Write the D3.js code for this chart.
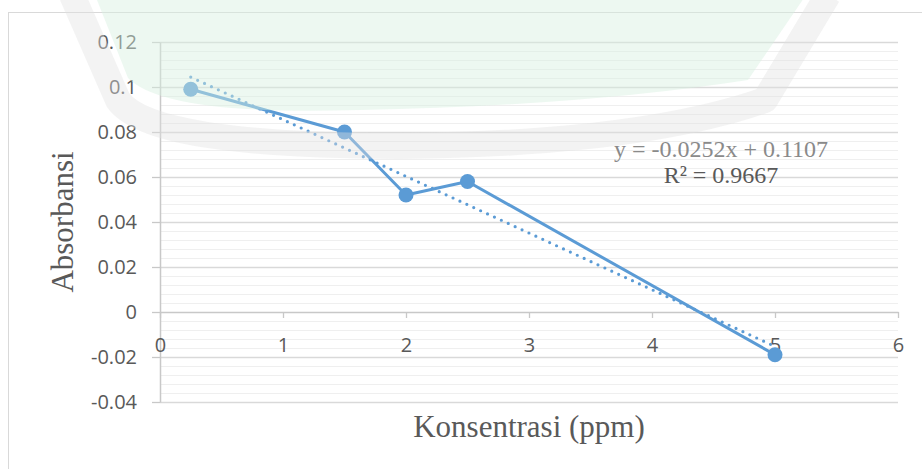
<!DOCTYPE html>
<html>
<head>
<meta charset="utf-8">
<script src="https://cdn.jsdelivr.net/npm/d3@7"></script>
<style>
  html, body { margin: 0; padding: 0; background: #ffffff; }
  svg { display: block; }
</style>
</head>
<body>
<svg id="chart" width="922" height="469"></svg>
<script>
// ---- data ----
const concentrations = [0.25, 1.5, 2, 2.5, 5];
const absorbances = [0.099, 0.08, 0.052, 0.058, -0.019];
const xTickValues = [0, 1, 2, 3, 4, 5, 6];
const yTickValues = [-0.04, -0.02, 0, 0.02, 0.04, 0.06, 0.08, 0.1, 0.12];
const trendSlope = -0.0252;
const trendIntercept = 0.1107;
const equationLabel = "y = -0.0252x + 0.1107";
const r2Label = "R² = 0.9667";
const xTitle = "Konsentrasi (ppm)";
const yTitle = "Absorbansi";

// ---- layout ----
const svg = d3.select("#chart");
const x = d3.scaleLinear().domain([0, 6]).range([160, 898]);
const y = d3.scaleLinear().domain([-0.04, 0.12]).range([402, 42]);

// chart area border
svg.append("rect").attr("x", 8.5).attr("y", 12.5).attr("width", 1000).attr("height", 1000)
  .attr("fill", "#fff").attr("stroke", "#d9d9d9").attr("stroke-width", 1);

// minor gridlines
const minor = d3.range(0, 41).map(i => +(-0.04 + i * 0.004).toFixed(3))
  .filter(v => !yTickValues.some(t => Math.abs(t - v) < 1e-9));
svg.append("g").selectAll("line").data(minor).join("line")
  .attr("x1", x(0)).attr("x2", x(6))
  .attr("y1", d => Math.round(y(d)) + 0.5).attr("y2", d => Math.round(y(d)) + 0.5)
  .attr("stroke", "#efefef").attr("stroke-width", 1);

// major gridlines
svg.append("g").selectAll("line").data(yTickValues.filter(v => v !== 0)).join("line")
  .attr("x1", x(0)).attr("x2", x(6))
  .attr("y1", d => Math.round(y(d)) + 0.5).attr("y2", d => Math.round(y(d)) + 0.5)
  .attr("stroke", "#d9d9d9").attr("stroke-width", 1.3);

const tickFont = "'Open Sans', 'Noto Sans', sans-serif";

// y axis
const yAxis = svg.append("g").attr("transform", `translate(${x(0)},0)`)
  .call(d3.axisLeft(y).tickValues(yTickValues).tickSizeInner(8).tickSizeOuter(0).tickPadding(15)
    .tickFormat(d => d === 0 ? "0" : String(+d.toFixed(2))));
yAxis.select(".domain").attr("stroke", "#c8c8c8").attr("stroke-width", 1.5);
yAxis.selectAll(".tick line").attr("stroke", "#c8c8c8").attr("stroke-width", 1.3);
yAxis.selectAll(".tick text").attr("fill", "#595959").style("font-family", tickFont).style("font-size", "20px");

// x axis at y = 0
const xAxis = svg.append("g").attr("transform", `translate(0,${y(0)})`)
  .call(d3.axisBottom(x).tickValues(xTickValues).tickSizeInner(6).tickSizeOuter(0).tickPadding(20)
    .tickFormat(d3.format("d")));
xAxis.select(".domain").attr("stroke", "#c8c8c8").attr("stroke-width", 1.5);
xAxis.selectAll(".tick line").attr("stroke", "#c8c8c8").attr("stroke-width", 1.3);
xAxis.selectAll(".tick text").attr("fill", "#595959").style("font-family", tickFont).style("font-size", "20px");

// trendline (linear fit shown in chart)
const xMin = d3.min(concentrations), xMax = d3.max(concentrations);
const trendPts = [xMin, xMax].map(v => [v, trendIntercept + trendSlope * v]);
svg.append("path")
  .attr("d", d3.line().x(d => x(d[0])).y(d => y(d[1]))(trendPts))
  .attr("fill", "none").attr("stroke", "#5b9bd5").attr("stroke-width", 3.2)
  .attr("stroke-linecap", "round").attr("stroke-dasharray", "0 7.6");

// data line
const pts = concentrations.map((c, i) => [c, absorbances[i]]);
svg.append("path")
  .attr("d", d3.line().x(d => x(d[0])).y(d => y(d[1]))(pts))
  .attr("fill", "none").attr("stroke", "#5b9bd5").attr("stroke-width", 3)
  .attr("stroke-linejoin", "round");

svg.append("g").selectAll("circle").data(pts).join("circle")
  .attr("cx", d => x(d[0])).attr("cy", d => y(d[1])).attr("r", 7.5)
  .attr("fill", "#5b9bd5");

// trendline label
const eq = svg.append("text").attr("x", 721).attr("y", 157).attr("text-anchor", "middle")
  .style("font-family", "'Liberation Serif', 'Times New Roman', serif").style("font-size", "24px");
eq.append("tspan").attr("x", 721).attr("fill", "#8a8a8a").text(equationLabel);
eq.append("tspan").attr("x", 721).attr("dy", 26).attr("fill", "#595959").text(r2Label);

// axis titles
svg.append("text").attr("x", 529).attr("y", 437).attr("text-anchor", "middle")
  .attr("fill", "#595959")
  .style("font-family", "'Liberation Serif', 'Times New Roman', serif").style("font-size", "31px")
  .text(xTitle);
svg.append("text").attr("transform", "translate(73,222) rotate(-90)").attr("text-anchor", "middle")
  .attr("fill", "#595959")
  .style("font-family", "'Liberation Serif', 'Times New Roman', serif").style("font-size", "31px")
  .text(yTitle);

// ---- faint library watermark overlay (decoration) ----
const wm = svg.append("g").attr("pointer-events", "none");
wm.append("path")
  .attr("d", "M 95 -5 L 128 78 Q 165 116 360 110 Q 580 106 748 80 L 806 -5 Z")
  .attr("fill", "#d8efe0").attr("opacity", 0.45);
wm.append("path")
  .attr("d", "M 72 -5 L 118 100 Q 150 146 400 146 Q 640 144 765 100 L 828 -5")
  .attr("fill", "none").attr("stroke", "#e2e2e2").attr("stroke-width", 26)
  .attr("stroke-linejoin", "round").attr("opacity", 0.4);
</script>
</body>
</html>
